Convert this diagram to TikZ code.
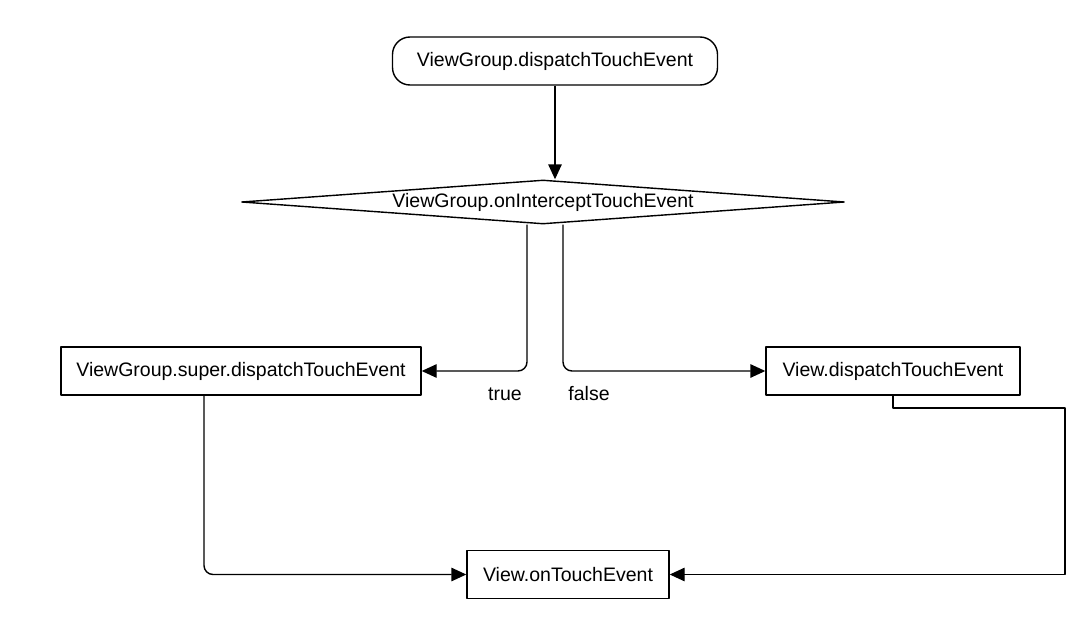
\documentclass[tikz,border=0pt]{standalone}
\usepackage{fontspec}
\setmainfont{Liberation Sans}
\usetikzlibrary{shapes.geometric,arrows.meta}
\begin{document}
\begin{tikzpicture}[line join=round, line width=0.8pt, >={Triangle[length=0.3cm,width=0.27cm]},
	font=\fontsize{11.1}{13}\selectfont,
	box/.style={draw, minimum height=0.96cm, inner sep=0},
	decision/.style={draw, diamond, aspect=13.7, inner sep=0, minimum width=12.06cm, minimum height=0.88cm}]
	\useasboundingbox (0,0) rectangle (21.6,12.72);
	\node[box, rounded corners=0.35cm, minimum width=6.5cm] (start) at (11.1,11.5) {ViewGroup.dispatchTouchEvent};
	\node[decision] (decide) at (10.86,8.68) {ViewGroup.onInterceptTouchEvent};
	\node[box, minimum width=7.2cm] (sup) at (4.82,5.3) {ViewGroup.super.dispatchTouchEvent};
	\node[box, minimum width=5.08cm] (vdisp) at (17.86,5.3) {View.dispatchTouchEvent};
	\node[box, minimum width=4.04cm] (touch) at (11.36,1.23) {View.onTouchEvent};
	\node[anchor=base] (yes) at (10.1,4.72) {true};
	\node[anchor=base] (no) at (11.78,4.72) {false};
	\coordinate (loop) at (21.3,4.56);
	\draw[->] (start.south) -- (start.south |- decide.north);
	\draw[->, rounded corners=0.18cm] ([xshift=-0.32cm]decide.south) |- (sup.east);
	\draw[->, rounded corners=0.18cm] ([xshift=0.4cm]decide.south) |- (vdisp.west);
	\draw[->, rounded corners=0.18cm] ([xshift=-0.74cm]sup.south) |- (touch.west);
	\draw[->] (vdisp.south) -- (vdisp.south |- loop) -- (loop) |- (touch.east);
\end{tikzpicture}
\end{document}
